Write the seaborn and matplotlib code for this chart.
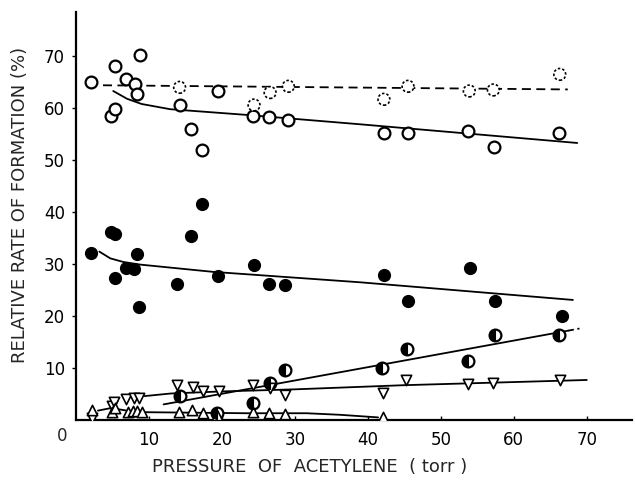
import numpy as np
import pandas as pd
import seaborn as sns
import matplotlib
matplotlib.use("Agg")
import matplotlib.pyplot as plt
from matplotlib.markers import MarkerStyle

# ---------------- data ----------------
# open circles (solid outline)
open_x = [2.1, 4.75, 5.3, 5.3, 6.9, 8.1, 8.3, 8.8, 14.2, 15.8, 17.2, 19.4, 24.3, 26.5, 29.0, 42.2, 45.5, 53.7, 57.3, 66.2]
open_y = [65.0, 58.5, 59.9, 68.1, 65.7, 64.7, 62.8, 70.3, 60.6, 56.0, 51.9, 63.3, 58.5, 58.3, 57.7, 55.3, 55.3, 55.6, 52.6, 55.3]
open_fit_x = [5.1, 7.0, 9.0, 12.9, 23.4, 38.9, 68.7]
open_fit_y = [63.3, 61.8, 60.8, 59.8, 58.7, 56.9, 53.3]

# dotted-outline circles
dot_x = [14.2, 24.4, 26.6, 29.1, 42.2, 45.5, 53.9, 57.2, 66.3]
dot_y = [64.0, 60.6, 63.0, 64.2, 61.7, 64.2, 63.3, 63.5, 66.5]
dot_fit_x = [3.7, 67.4]
dot_fit_y = [64.4, 63.6]

# filled circles
fill_x = [2.0, 4.75, 5.3, 8.4, 6.9, 7.9, 5.3, 8.6, 13.9, 15.8, 17.3, 19.4, 24.4, 26.5, 28.6, 42.2, 45.5, 54.0, 57.4, 66.6]
fill_y = [32.2, 36.2, 35.8, 32.0, 29.2, 29.0, 27.4, 21.8, 26.1, 35.4, 41.5, 27.8, 29.8, 26.2, 25.9, 27.9, 22.9, 29.2, 22.9, 20.1]
fill_fit_x = [3.2, 4.7, 6.5, 8.8, 18.8, 38.9, 68.1]
fill_fit_y = [32.4, 31.1, 30.4, 29.9, 28.5, 26.5, 23.1]

# half-filled circles
half_x = [14.2, 19.3, 24.3, 26.6, 28.6, 42.0, 45.3, 53.7, 57.4, 66.2]
half_y = [4.6, 1.4, 3.3, 7.2, 9.7, 10.1, 13.6, 11.4, 16.3, 16.3]
half_fit_x = [12.0, 67.5]
half_fit_y = [3.0, 17.2]
half_tail_x = [67.5, 69.0]
half_tail_y = [17.2, 17.6]

# downward triangles
down_x = [2.2, 5.0, 5.2, 6.8, 8.0, 8.7, 13.9, 16.1, 17.4, 19.6, 24.2, 26.6, 28.6, 42.1, 45.2, 53.7, 57.2, 66.4]
down_y = [0.3, 2.6, 3.4, 4.0, 4.2, 4.3, 6.7, 6.4, 5.6, 5.6, 6.7, 6.2, 4.8, 5.1, 7.7, 6.9, 7.2, 7.6]
down_fit_x = [9.4, 13.0, 20.0, 30.0, 45.0, 70.0]
down_fit_y = [4.6, 5.1, 5.5, 5.9, 6.7, 7.7]

# upward triangles
up_x = [2.2, 5.0, 5.4, 7.1, 7.8, 8.4, 9.1, 14.1, 15.9, 17.4, 19.3, 24.3, 26.5, 28.6, 42.1]
up_y = [1.9, 1.6, 2.3, 1.6, 1.8, 1.8, 1.6, 1.6, 1.9, 1.3, 0.9, 1.6, 1.3, 1.1, 0.5]
up_fit_x = [3.0, 4.8, 7.0, 9.6, 23.4, 31.6, 36.2, 41.4]
up_fit_y = [1.8, 2.3, 1.8, 1.5, 1.3, 1.3, 1.0, 0.5]

x_ticks = [10, 20, 30, 40, 50, 60, 70]
y_ticks = [10, 20, 30, 40, 50, 60, 70]
x_label = "PRESSURE  OF  ACETYLENE  ( torr )"
y_label = "RELATIVE RATE OF FORMATION (%)"

# ---------------- figure ----------------
sns.set_theme(style="ticks")
plt.rcParams["font.family"] = ["DejaVu Sans"]

fig = plt.figure(figsize=(6.35, 4.8), dpi=100)
ax = fig.add_axes([76 / 635, 1 - 420 / 480, 556 / 635, 408 / 480])

lw = 1.3
# fitted lines
sns.lineplot(x=open_fit_x, y=open_fit_y, ax=ax, color="black", lw=lw, estimator=None, sort=False, zorder=1)
sns.lineplot(x=dot_fit_x, y=dot_fit_y, ax=ax, color="black", lw=lw, estimator=None, sort=False,
             linestyle=(0, (5, 3)), zorder=1)
sns.lineplot(x=fill_fit_x, y=fill_fit_y, ax=ax, color="black", lw=lw, estimator=None, sort=False, zorder=1)
sns.lineplot(x=half_fit_x, y=half_fit_y, ax=ax, color="black", lw=lw, estimator=None, sort=False, zorder=1)
sns.lineplot(x=half_tail_x, y=half_tail_y, ax=ax, color="black", lw=lw, estimator=None, sort=False,
             linestyle=(0, (3, 2)), zorder=1)
sns.lineplot(x=down_fit_x, y=down_fit_y, ax=ax, color="black", lw=lw, estimator=None, sort=False, zorder=1)
sns.lineplot(x=up_fit_x, y=up_fit_y, ax=ax, color="black", lw=lw, estimator=None, sort=False, zorder=1)

ms = 72
# open circles
sns.scatterplot(x=open_x, y=open_y, ax=ax, marker="o", s=ms, facecolor="white", edgecolor="black",
                linewidth=1.6, zorder=3)
# dotted circles
sns.scatterplot(x=dot_x, y=dot_y, ax=ax, marker="o", s=ms, facecolor="white", edgecolor="black",
                linewidth=1.2, linestyle=(0, (1.5, 1.2)), zorder=3)
# filled circles
sns.scatterplot(x=fill_x, y=fill_y, ax=ax, marker="o", s=ms, color="black", edgecolor="black",
                linewidth=1.0, zorder=3)
# half-filled circles
sns.scatterplot(x=half_x, y=half_y, ax=ax, marker="o", s=ms, facecolor="white", edgecolor="black",
                linewidth=1.6, zorder=3)
sns.scatterplot(x=half_x, y=half_y, ax=ax, marker=MarkerStyle("o", fillstyle="left"), s=ms,
                color="black", edgecolor="black", linewidth=0.8, zorder=4)
# triangles
sns.scatterplot(x=down_x, y=down_y, ax=ax, marker="v", s=55, facecolor="white", edgecolor="black",
                linewidth=1.2, zorder=3)
sns.scatterplot(x=up_x, y=up_y, ax=ax, marker="^", s=55, facecolor="white", edgecolor="black",
                linewidth=1.2, zorder=3)

ax.set_xlim(0, 76.2)
ax.set_ylim(0, 78.5)
ax.set_xticks(x_ticks)
ax.set_yticks(y_ticks)
ax.set_xticklabels([str(t) for t in x_ticks])
ax.set_yticklabels([str(t) for t in y_ticks])
ax.tick_params(axis="x", direction="in", length=3, width=1, pad=8, labelsize=12, colors="black")
ax.tick_params(axis="y", direction="out", length=3, width=1, pad=5, labelsize=12, colors="black")
for s in ["top", "right"]:
    ax.spines[s].set_visible(False)
for s in ["left", "bottom"]:
    ax.spines[s].set_linewidth(1.6)
    ax.spines[s].set_color("black")
ax.set_xlabel("")
ax.set_ylabel("")

ax.annotate("0", xy=(0, 0), xytext=(-14, -16), textcoords="offset pixels",
            ha="center", va="center", fontsize=12)

fig.text(310 / 635, 1 - 467 / 480, x_label, ha="center", va="center", fontsize=13)
fig.text(20 / 635, 1 - 205 / 480, y_label, ha="center", va="center", rotation=90, fontsize=13)

fig.savefig("out.png", dpi=100)
